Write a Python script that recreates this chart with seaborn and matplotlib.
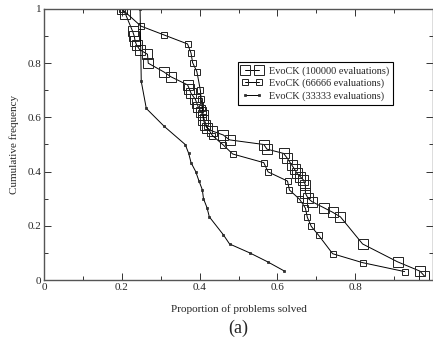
import numpy as np
import pandas as pd
import matplotlib
matplotlib.use("Agg")
import matplotlib.pyplot as plt
import seaborn as sns
from matplotlib.ticker import MultipleLocator, FuncFormatter

# ── data ─────────────────────────────────────────────────────────────────────
x_100k = [0.200, 0.209, 0.228, 0.232, 0.234, 0.238, 0.246, 0.266, 0.268, 0.309,
          0.326, 0.369, 0.374, 0.378, 0.389, 0.393, 0.397, 0.404, 0.408, 0.410,
          0.414, 0.420, 0.432, 0.461, 0.477, 0.565, 0.573, 0.616, 0.625, 0.637,
          0.644, 0.650, 0.659, 0.667, 0.672, 0.672, 0.679, 0.689, 0.719, 0.742,
          0.762, 0.819, 0.909, 0.966, 0.978]
y_100k = [1.000, 0.983, 0.917, 0.900, 0.883, 0.867, 0.850, 0.833, 0.800, 0.767,
          0.750, 0.720, 0.704, 0.689, 0.667, 0.652, 0.637, 0.621, 0.609, 0.590,
          0.572, 0.560, 0.550, 0.535, 0.517, 0.500, 0.483, 0.467, 0.450, 0.424,
          0.409, 0.394, 0.381, 0.369, 0.350, 0.320, 0.301, 0.289, 0.267, 0.250,
          0.233, 0.133, 0.067, 0.033, 0.015]

x_66k = [0.200, 0.249, 0.309, 0.369, 0.378, 0.382, 0.393, 0.402, 0.404, 0.407,
         0.410, 0.418, 0.433, 0.461, 0.485, 0.565, 0.576, 0.626, 0.631, 0.657,
         0.672, 0.677, 0.687, 0.706, 0.742, 0.819, 0.927]
y_66k = [1.000, 0.937, 0.904, 0.871, 0.837, 0.802, 0.769, 0.700, 0.667, 0.633,
         0.600, 0.567, 0.533, 0.498, 0.465, 0.433, 0.399, 0.365, 0.332, 0.298,
         0.265, 0.231, 0.198, 0.165, 0.097, 0.064, 0.031]

x_33k = [0.247, 0.250, 0.263, 0.309, 0.363, 0.372, 0.378, 0.390, 0.398, 0.407,
         0.410, 0.419, 0.425, 0.461, 0.477, 0.529, 0.575, 0.618]
y_33k = [1.000, 0.733, 0.633, 0.567, 0.500, 0.467, 0.433, 0.400, 0.367, 0.333,
         0.300, 0.267, 0.233, 0.167, 0.133, 0.100, 0.067, 0.033]

labels = ["EvoCK (100000 evaluations)", "EvoCK (66666 evaluations)",
          "EvoCK (33333 evaluations)"]

# ── style ────────────────────────────────────────────────────────────────────
sns.set_style("ticks")
plt.rcParams["font.family"] = ["Liberation Serif", "DejaVu Serif"]

fig = plt.figure(figsize=(4.33, 3.48), dpi=100)
ax = fig.add_axes([44 / 433, 68 / 348, 389 / 433, 271 / 348])

series = [
    (x_100k, y_100k, labels[0], 7.0, "none", 0.7),
    (x_66k, y_66k, labels[1], 4.5, "none", 0.7),
    (x_33k, y_33k, labels[2], 2.0, "#333333", 0.5),
]
for xs, ys, lab, ms, fc, mew in series:
    sns.lineplot(x=xs, y=ys, ax=ax, estimator=None, sort=False, label=lab,
                 color="black", linewidth=0.7, marker="s", markersize=ms,
                 markerfacecolor=fc, markeredgecolor="#222222",
                 markeredgewidth=mew)

ax.set_xlim(0, 1)
ax.set_ylim(0, 1)
ax.xaxis.set_major_locator(MultipleLocator(0.2))
ax.xaxis.set_minor_locator(MultipleLocator(0.1))
ax.yaxis.set_major_locator(MultipleLocator(0.2))
ax.yaxis.set_minor_locator(MultipleLocator(0.1))
ax.xaxis.set_major_formatter(
    FuncFormatter(lambda v, p: "" if v > 0.99 else "%g" % round(v, 2)))
ax.yaxis.set_major_formatter(FuncFormatter(lambda v, p: "%g" % round(v, 2)))
ax.tick_params(which="both", direction="in", top=True, right=True,
               labelsize=8, width=0.7, color="#333333", pad=2)
ax.tick_params(which="major", length=5)
ax.tick_params(which="minor", length=3)
for s in ax.spines.values():
    s.set_linewidth(1.0)
    s.set_color("#555555")

ax.set_xlabel("Proportion of problems solved", fontsize=8, labelpad=9)
ax.set_ylabel("Cumulative frequency", fontsize=8, labelpad=6)

leg = ax.legend(loc="upper right", bbox_to_anchor=(0.897, 0.805),
                fontsize=7.4, numpoints=2, handlelength=2.0,
                borderpad=0.4, labelspacing=0.3, handletextpad=0.6,
                fancybox=False, framealpha=1, borderaxespad=0)
leg.get_frame().set_edgecolor("black")
leg.get_frame().set_linewidth(0.8)

fig.text(0.5 * (44 + 433) / 433, 1 - 328 / 348, "(a)", fontsize=13,
         ha="center", va="center")

fig.savefig("out.png", dpi=100)
